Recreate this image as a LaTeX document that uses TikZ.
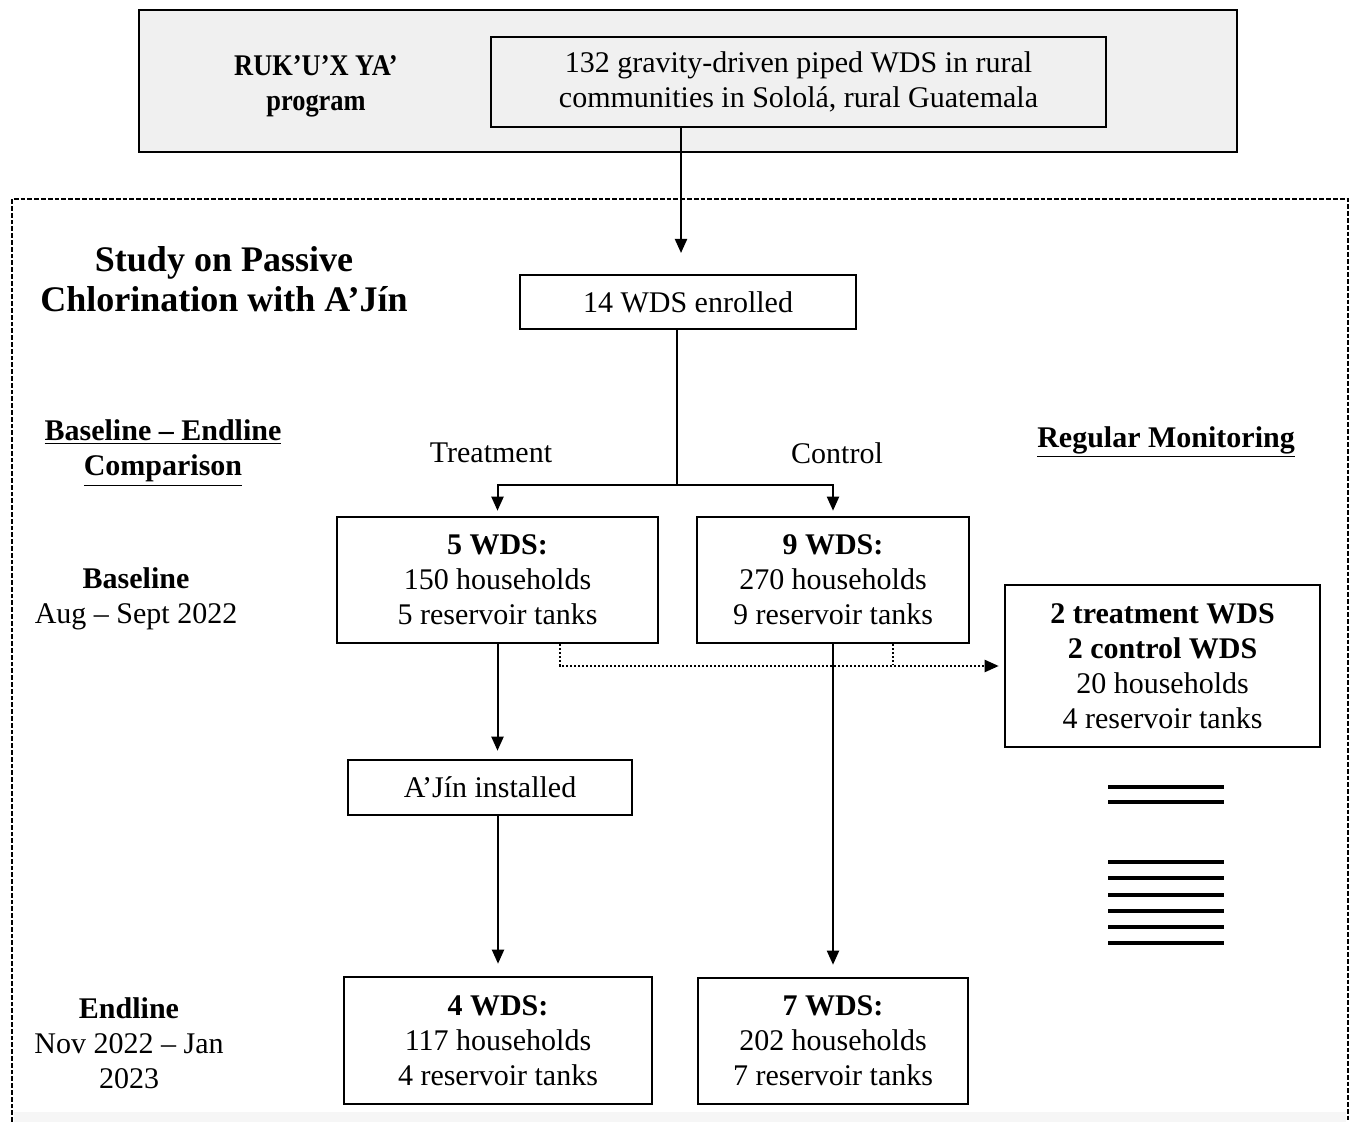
\documentclass[tikz,border=0pt]{standalone}
\usepackage{fontspec}
\setmainfont{Liberation Serif}
\usepackage{tikz}
\usetikzlibrary{arrows.meta, positioning}
\definecolor{headGray}{RGB}{240, 240, 240}
\definecolor{stripGray}{RGB}{246, 246, 246}

\newcommand{\txt}{\fontsize{15}{17.5}\selectfont}
\newcommand{\ttl}{\fontsize{18}{20}\selectfont\bfseries}

\tikzset{
  flowbox/.style={draw, line width=1.3pt, align=center, inner sep=2pt, font=\txt, fill=white},
  label/.style={align=center, font=\txt},
  arr/.style={line width=1pt, -{Triangle[length=7pt, width=6pt]}},
  dotline/.style={line width=1.1pt, dash pattern=on 1pt off 1pt},
  frame/.style={line width=0.9pt, dash pattern=on 2.4pt off 1pt},
}

\begin{document}
\begin{tikzpicture}[x=0.5pt, y=-0.5pt]
  \useasboundingbox (0,0) rectangle (1352,1122);

  % programme header
  \node[flowbox, fill=headGray, minimum width=549pt, minimum height=71pt] (prog) at (688,81) {};
  \node[label, font=\txt\bfseries, xscale=0.88] (progname) at (316,86) {RUK’U’X YA’\\program};
  \node[flowbox, fill=headGray, minimum width=307.5pt, minimum height=45pt] (source) at (798.5,82)
    {132 gravity-driven piped WDS in rural\\communities in Sololá, rural Guatemala};

  % study frame
  \fill[stripGray] (14,1112) rectangle (1346,1122);
  \draw[frame] (12,1122) |- (1348,199) -- (1348,1122);

  \node[align=center, font=\ttl] (title) at (224,279) {Study on Passive\\Chlorination with A’Jín};
  \node[label, font=\txt\bfseries] (cmp) at (163,453) {\underline{Baseline – Endline}\\\underline{Comparison}};
  \node[label, font=\txt\bfseries] (regmon) at (1166,442) {\underline{Regular Monitoring}};
  \node[label] (base) at (136,599) {\textbf{Baseline}\\Aug – Sept 2022};
  \node[label] (end) at (129,1043) {\textbf{Endline}\\Nov 2022 – Jan\\2023};
  \node[label] (treat) at (491,453) {Treatment};
  \node[label] (ctrl) at (837,453) {Control};

  % boxes
  \node[flowbox, minimum width=168pt, minimum height=27pt] (enrolled) at (688,302) {14 WDS enrolled};
  \node[flowbox, minimum width=160.5pt, minimum height=63pt] (t1) at (497.5,580)
    {\textbf{5 WDS:}\\150 households\\5 reservoir tanks};
  \node[flowbox, minimum width=136pt, minimum height=63pt] (c1) at (833,580)
    {\textbf{9 WDS:}\\270 households\\9 reservoir tanks};
  \node[flowbox, minimum width=157.5pt, minimum height=81pt] (rm) at (1162.5,666)
    {\textbf{2 treatment WDS}\\\textbf{2 control WDS}\\20 households\\4 reservoir tanks};
  \node[flowbox, minimum width=142pt, minimum height=27.5pt] (aj) at (490,787.5) {A’Jín installed};
  \node[flowbox, minimum width=154pt, minimum height=63.5pt] (t2) at (498,1040.5)
    {\textbf{4 WDS:}\\117 households\\4 reservoir tanks};
  \node[flowbox, minimum width=135pt, minimum height=63pt] (c2) at (833,1041)
    {\textbf{7 WDS:}\\202 households\\7 reservoir tanks};

  % connectors
  \coordinate (intop) at (681,253);
  \coordinate (split) at (677,485);
  \coordinate (monT) at (560,665);
  \coordinate (monC) at (893,665);
  \draw[arr] (source.south -| intop) -- (intop);
  \draw[line width=1pt] (enrolled.south -| split) -- (split);
  \draw[arr, shorten >=2.5pt] (split) -| (t1.north);
  \draw[arr, shorten >=2.5pt] (split) -| (c1.north);
  \draw[arr, shorten >=4pt] (t1.south) -- (t1.south |- aj.north);
  \draw[arr, shorten >=6pt] (aj.south -| t2.north) -- (t2.north);
  \draw[arr, shorten >=6pt] (c1.south) -- (c2.north);
  \draw[dotline, -{Triangle[length=7pt, width=6pt]}, shorten >=2.5pt] (t1.south -| monT) |- (rm.west);
  \draw[dotline] (c1.south -| monC) -- (monC);

  % monitoring rounds
  \foreach \y in {787,802,862,878,895,911,927,943}
    \draw[line width=1.6pt] (1108,\y) -- (1224,\y);
\end{tikzpicture}
\end{document}
